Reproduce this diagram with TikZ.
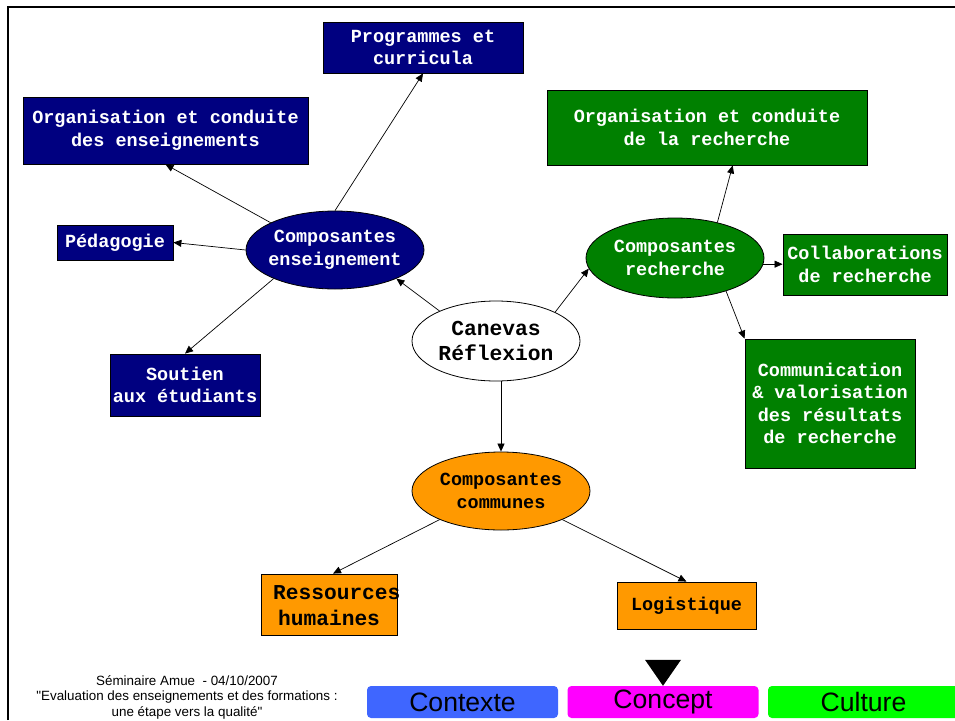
\documentclass[tikz,border=0pt]{standalone}
\usepackage{fontspec}
\setmainfont{Liberation Sans}[Ligatures=TeXOff]
\newfontfamily\cour{Liberation Mono}
\usetikzlibrary{arrows.meta,calc,shapes.geometric}
\definecolor{navy}{HTML}{000080}
\definecolor{dgreen}{HTML}{008000}
\definecolor{orng}{HTML}{FF9900}
\definecolor{ctxblue}{HTML}{3F66FF}
\definecolor{cptmag}{HTML}{FF00FF}
\definecolor{cltgreen}{HTML}{00FF00}
\begin{document}
\begin{tikzpicture}[x=1pt,y=-1pt,
  mono/.style={font=\cour\bfseries\fontsize{18.5}{22.5}\selectfont},
  box/.style={rectangle,draw=black,line width=0.8pt,inner sep=0pt,align=center,mono},
  navybox/.style={box,fill=navy,text=white},
  greenbox/.style={box,fill=dgreen,text=white},
  orngbox/.style={box,fill=orng,text=black},
  ell/.style={ellipse,draw=black,line width=0.8pt,inner ysep=0pt,inner xsep=-8pt,align=center,mono,minimum width=178pt,minimum height=78pt},
  arr/.style={line width=0.7pt,draw=black,-{Triangle[length=8pt,width=7pt]}},
  btn/.style={rounded corners=4pt,minimum width=191pt,minimum height=32pt,inner sep=0pt,font=\fontsize{26.6}{30}\selectfont},
]
\useasboundingbox (0,0) rectangle (955,720);
% frame
\draw[line width=2.5pt] (8,720) -- (8,7) -- (956,7);

% teaching side
\node[navybox,minimum width=200pt,minimum height=51pt] (prog) at (423,47.5) {Programmes et\\curricula};
\node[navybox,minimum width=285pt,minimum height=67pt] (orgens) at (165.5,130.5) {Organisation et conduite\\des enseignements};
\node[navybox,minimum width=116pt,minimum height=35pt] (ped) at (115,242.5) {Pédagogie};
\node[navybox,minimum width=150pt,minimum height=62pt] (sout) at (185,385) {Soutien\\aux étudiants};
\node[ell,fill=navy,text=white] (ce) at (335,250) {Composantes\\enseignement};

% centre
\node[ell,fill=white,text=black,minimum width=168pt,minimum height=80pt,inner xsep=0pt,font=\cour\bfseries\fontsize{21.3}{25}\selectfont] (can) at (496,341) {Canevas\\Réflexion};

% research side
\node[ell,fill=dgreen,text=white,minimum height=80pt] (cr) at (675,258) {Composantes\\recherche};
\node[greenbox,minimum width=320pt,minimum height=75pt] (orgrech) at (707,127.5) {Organisation et conduite\\de la recherche};
\node[greenbox,minimum width=164pt,minimum height=61pt] (collab) at (865,264.5) {Collaborations\\de recherche};
\node[greenbox,minimum width=170pt,minimum height=129pt] (comm) at (830,403.5) {Communication\\\&~valorisation\\des résultats\\de recherche};

% common
\node[ell,fill=orng,text=black] (cc) at (501,491) {Composantes\\communes};
\node[rectangle,draw=black,line width=0.8pt,fill=orng,minimum width=136pt,minimum height=61pt,inner sep=0pt] (rh) at (329,604.5) {};
\node[mono,font=\cour\bfseries\fontsize{21.2}{26}\selectfont,align=left,anchor=west,inner sep=0pt] (rhtxt) at (273,606) {Ressources\\\hspace{5pt}humaines};
\node[orngbox,minimum width=139pt,minimum height=47pt] (log) at (686.5,605.5) {Logistique};

% connectors
\draw[arr] (ce.north) -- (prog.south);
\draw[arr] (ce.157) -- (orgens.south);
\draw[arr] (ce.west) -- (ped.east);
\draw[arr] (ce.205) -- (sout.north);
\draw[arr] (can.152) -- (ce.335);
\draw[arr] (can.26) -- (cr.187);
\draw[arr] (can.south -| cc.north) -- (cc.north);
\draw[arr] (cr.40) -- ($(orgrech.south west)!0.58!(orgrech.south east)$);
\draw[arr] (cr.356) -- (cr.356 -| collab.west);
\draw[arr] (cr.327) -- (comm.north west);
\draw[arr] (cc.205) -- ($(rh.north)+(4,0)$);
\draw[arr] (cc.335) -- (log.north);

% footer
\node[font=\fontsize{13.4}{15.5}\selectfont,align=center,inner sep=0pt] (foot) at (187,697) {Séminaire Amue\ \ - 04/10/2007\\"Evaluation des enseignements et des formations :\\une étape vers la qualité"};
\node[btn,fill=ctxblue] (ctx) at (462.5,702) {Contexte};
\node[btn,fill=cptmag] (cpt) at (663,702) {Concept};
\node[btn,fill=cltgreen] (clt) at (863.5,702) {Culture};
\fill[black] ($(cpt.north)+(-18,-26)$) -- ($(cpt.north)+(18,-26)$) -- (cpt.north) -- cycle;
\end{tikzpicture}
\end{document}
